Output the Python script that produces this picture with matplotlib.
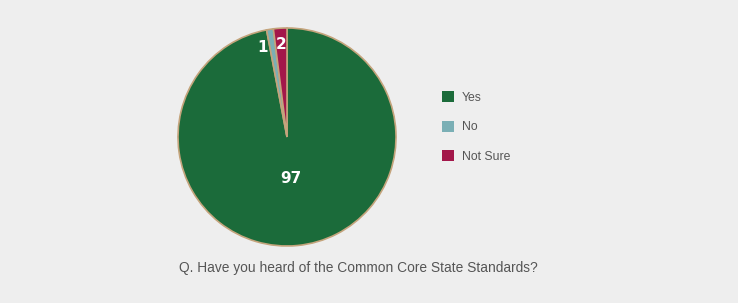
import numpy as np
import matplotlib.pyplot as plt
from matplotlib.patches import Patch

categories = ["Yes", "No", "Not Sure"]
values = [97, 1, 2]
colors = ["#1b6b3a", "#7aafb5", "#a3174a"]
question = "Q. Have you heard of the Common Core State Standards?"

plt.rcParams['font.family'] = ['Liberation Sans', 'DejaVu Sans']

fig = plt.figure(figsize=(7.38, 3.03), dpi=100)
fig.patch.set_facecolor('#eeeeee')

ax = fig.add_axes([0.2412, 0.1881, 0.2954, 0.7195])
ax.set_facecolor('#eeeeee')
wedges, texts = ax.pie(values, colors=colors, startangle=90, counterclock=False,
                       labels=[str(v) for v in values],
                       wedgeprops=dict(edgecolor='#c4a47c', linewidth=1.2),
                       textprops=dict(color='white', fontweight='bold', fontsize=11,
                                      family='DejaVu Sans'))
# move value labels inside the slices
dist = [0.38, 0.85, 0.85]
shift = [0, 6, 0]
for w, t, d, s in zip(wedges, texts, dist, shift):
    ang = np.deg2rad((w.theta1 + w.theta2) / 2 + s)
    t.set_position((d * np.cos(ang), d * np.sin(ang)))
    t.set_ha('center')
    t.set_va('center')
ax.set_xlim(-1, 1)
ax.set_ylim(-1, 1)
ax.set_aspect('equal')
ax.axis('off')

handles = [Patch(facecolor=c, edgecolor='none') for c in colors]
fig.legend(handles, categories, loc='upper left', bbox_to_anchor=(0.584, 0.735),
           frameon=False, fontsize=8.8, handlelength=1.0, handleheight=1.0,
           labelspacing=1.38, handletextpad=0.65, labelcolor='#555555')

fig.text(0.485, 0.115, question, ha='center', va='center', fontsize=9.9, color='#555555')

fig.savefig('out.png', dpi=100, facecolor=fig.get_facecolor())
